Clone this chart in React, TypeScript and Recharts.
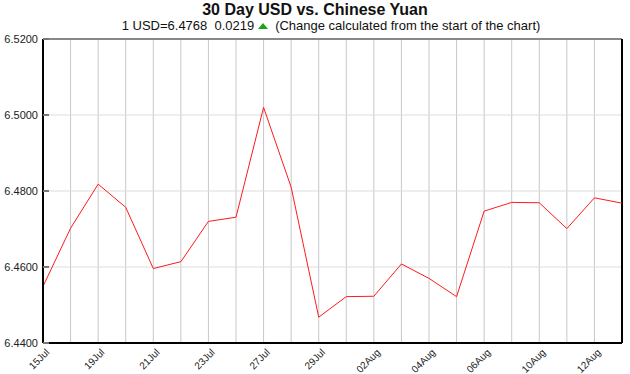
import React from 'react';
import { LineChart, Line, XAxis, YAxis, CartesianGrid, ReferenceLine } from 'recharts';

const dates = [
  '15Jul', '16Jul', '19Jul', '20Jul', '21Jul', '22Jul', '23Jul', '26Jul', '27Jul', '28Jul', '29Jul',
  '30Jul', '02Aug', '03Aug', '04Aug', '05Aug', '06Aug', '09Aug', '10Aug', '11Aug', '12Aug', '13Aug',
];
const rates = [
  6.4549, 6.4702, 6.4818, 6.4757, 6.4596, 6.4614, 6.472, 6.4731, 6.502, 6.481, 6.4468,
  6.4522, 6.4523, 6.4608, 6.457, 6.4522, 6.4747, 6.477, 6.4769, 6.4701, 6.4782, 6.4768,
];
const yTicks = [6.44, 6.46, 6.48, 6.5, 6.52];

const data = dates.map((d, i) => ({ date: d, rate: rates[i] }));

const font = 'Arial, "Liberation Sans", sans-serif';

const XTick = (props: any) => {
  const { x, y, payload, index } = props;
  if (index % 2 === 1) return null;
  const tx = x + 7;
  const ty = y + 2;
  return (
    <text x={tx} y={ty} textAnchor="end" fontSize={10} fontFamily={font} fill="#222"
      transform={`rotate(-45, ${tx}, ${ty})`}>
      {payload.value}
    </text>
  );
};

const YTick = (props: any) => {
  const { x, y, payload } = props;
  return (
    <g>
      <line x1={x + 5} x2={x + 11} y1={y} y2={y} stroke="#777" strokeWidth={2} />
      <text x={x} y={y} dy={4} textAnchor="end" fontSize={11} fontFamily={font} fill="#222">
        {payload.value.toFixed(4)}
      </text>
    </g>
  );
};

export default function App() {
  return (
    <div style={{ position: 'absolute', left: 0, top: 0, width: 630, height: 374, background: '#fff', fontFamily: font }}>
      <div style={{ position: 'absolute', left: 0, width: 630, top: 1, textAlign: 'center', fontSize: 16, fontWeight: 'bold', color: '#111' }}>
        30 Day USD vs. Chinese Yuan
      </div>
      <div style={{ position: 'absolute', left: 16, width: 630, top: 18, textAlign: 'center', fontSize: 13, color: '#111', whiteSpace: 'pre' }}>
        {'1 USD=6.4768  0.0219 '}
        <svg width={10} height={8} style={{ verticalAlign: 'baseline' }}>
          <polygon points="0,7 5,1 10,7" fill="#1aa31a" />
        </svg>
        {'  (Change calculated from the start of the chart)'}
      </div>
      <div style={{ position: 'absolute', left: 0, top: 0 }}>
        <LineChart width={630} height={374} data={data} margin={{ top: 39, right: 8, bottom: 0, left: 0 }}>
          <CartesianGrid horizontal={false} stroke="#c8c8c8" />
          <CartesianGrid vertical={false} stroke="#dcdcdc" />
          <XAxis dataKey="date" interval={0} tick={<XTick />} tickLine={false}
            axisLine={{ stroke: '#000', strokeWidth: 2 }} height={31} />
          <YAxis domain={[6.44, 6.52]} ticks={yTicks} tick={<YTick />} tickLine={false} tickSize={0} tickMargin={5}
            axisLine={{ stroke: '#000', strokeWidth: 2 }} width={43} />
          <ReferenceLine y={6.52} stroke="#888" strokeWidth={2} />
          <ReferenceLine x="13Aug" stroke="#000" strokeWidth={2} />
          <Line type="linear" dataKey="rate" stroke="#ff1a1a" strokeWidth={1} dot={false} isAnimationActive={false} />
        </LineChart>
      </div>
    </div>
  );
}
